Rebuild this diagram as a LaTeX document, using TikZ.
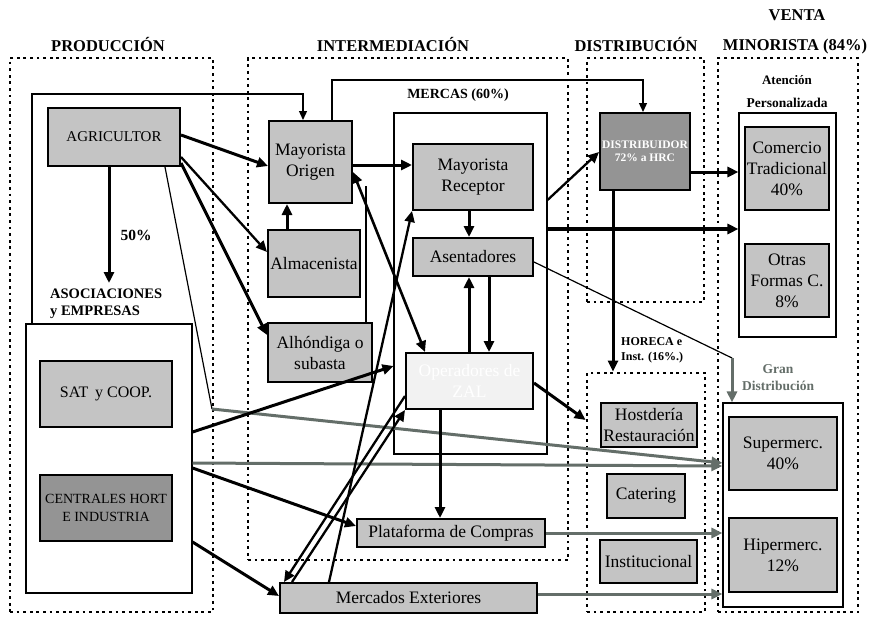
\documentclass[tikz,border=0pt]{standalone}
\usepackage{fontspec}
\setmainfont{Liberation Serif}
\usetikzlibrary{arrows.meta}
\definecolor{boxfill}{RGB}{196,196,196}
\definecolor{darkfill}{RGB}{148,148,148}
\definecolor{lightfill}{RGB}{242,242,242}
\definecolor{gline}{RGB}{100,110,105}
\tikzset{
  wh/.style 2 args={minimum width=#1pt, minimum height=#2pt},
  bx/.style={draw=black, line width=2pt, fill=boxfill, align=center, inner sep=1pt, font=\fontsize{17.5}{21}\selectfont},
  frame/.style={draw=black, line width=1.1pt},
  sect/.style={draw=black, line width=2.8pt, dash pattern=on 2.8pt off 3.8pt},
  hdr/.style={font=\bfseries\fontsize{16.5}{19}\selectfont},
  bigtip/.style={-{Triangle[length=11pt,width=10pt]}},
  smalltip/.style={-{Triangle[length=9pt,width=8pt]}},
  thk/.style={line width=3pt, bigtip},
  med/.style={line width=2.3pt, bigtip},
  thn/.style={line width=1.3pt, smalltip},
  thnline/.style={line width=1.2pt},
  gry/.style={draw=gline, line width=3pt, -{Triangle[length=11pt,width=10pt]}, fill=none},
}
\begin{document}
\begin{tikzpicture}[x=1pt,y=-1pt]
\useasboundingbox (0,0) rectangle (872,618);

% section frames
\node[sect, wh={203}{554}] (prod) at (111.5,335) {};
\node[sect, wh={320}{502}] (inter) at (408,309) {};
\node[sect, wh={117}{244}] (distr) at (645.5,180) {};
\node[sect, wh={118}{239}] (horeca) at (646,492.5) {};
\node[sect, wh={140}{554}] (venta) at (788,335) {};

% titles
\node[hdr] (tprod) at (108,45) {PRODUCCIÓN};
\node[hdr] (tinter) at (393,45) {INTERMEDIACIÓN};
\node[hdr] (tdist) at (636,45) {DISTRIBUCIÓN};
\node[hdr] (tventa) at (797,15) {VENTA};
\node[hdr] (tmin) at (795,47) {MINORISTA (84\%)};
\node[font=\bfseries\fontsize{14}{16}\selectfont] (tmercas) at (458,95) {MERCAS (60\%)};
\node[font=\bfseries\fontsize{13}{14}\selectfont] (tat1) at (787,80) {Atención};
\node[font=\bfseries\fontsize{13.5}{14}\selectfont] (tat2) at (787,103) {Personalizada};
\node[font=\bfseries\fontsize{12}{15}\selectfont, align=left, anchor=north west, inner sep=0pt] (thor) at (621,337) {HORECA e\\Inst. (16\%.)};
\node[font=\bfseries\fontsize{13.5}{17}\selectfont, text=gline, align=center] (tgran) at (778,378) {Gran\\Distribución};
\node[font=\bfseries\fontsize{14.5}{16.5}\selectfont, align=left, anchor=north west, inner sep=0pt] (tasoc) at (50,289) {ASOCIACIONES\\y EMPRESAS};
\node[font=\bfseries\fontsize{15.5}{17}\selectfont] (t50) at (136,235) {50\%};

% thin containers
\node[frame, wh={166}{269}] (asoc) at (109,458.5) {};
\node[frame, wh={153}{341}] (mercas) at (470.5,283.5) {};
\node[frame, wh={97}{224}] (aten) at (787.5,225) {};
\node[frame, wh={120}{204}] (gran) at (783,505) {};

% boxes
\node[bx, wh={132}{58}, font=\fontsize{15}{17}\selectfont] (agri) at (114,137) {AGRICULTOR};
\node[bx, wh={132}{66}, font=\fontsize{16}{18}\selectfont] (sat) at (106,394) {SAT\, y COOP.};
\node[bx, wh={132}{66}, fill=darkfill, font=\fontsize{14}{17.5}\selectfont] (cent) at (106,508) {CENTRALES HORT\\E INDUSTRIA};
\node[bx, wh={83}{82}] (mayo) at (310.5,162) {Mayorista\\Origen};
\node[bx, wh={92}{67}] (alma) at (314,263.5) {Almacenista};
\node[bx, wh={104}{59}] (alho) at (320,352.5) {Alhóndiga o\\subasta};
\node[bx, wh={120}{66}] (mrec) at (473,177) {Mayorista\\Receptor};
\node[bx, wh={120}{38}] (asen) at (473,257) {Asentadores};
\node[bx, wh={127}{56}, fill=lightfill, text=white] (oper) at (469.5,381) {Operadores de\\ZAL};
\node[bx, wh={188}{28}] (plat) at (451,533) {Plataforma de Compras};
\node[bx, wh={257}{30}] (mext) at (408.5,598) {Mercados Exteriores};
\node[bx, wh={90}{77}, fill=darkfill, text=white, font=\bfseries\fontsize{11.5}{13}\selectfont] (dist) at (645,151.5) {DISTRIBUIDOR\\72\% a HRC};
\node[bx, wh={84}{83}] (comt) at (787,168.5) {Comercio\\Tradicional\\40\%};
\node[bx, wh={84}{73}] (otras) at (787,280.5) {Otras\\Formas C.\\8\%};
\node[bx, wh={108}{73}] (super) at (783,453.5) {Supermerc.\\40\%};
\node[bx, wh={108}{74}] (hiper) at (783,555) {Hipermerc.\\12\%};
\node[bx, wh={96}{44}] (host) at (649,425) {Hostdería\\Restauración};
\node[bx, wh={78}{44}] (cater) at (646,496) {Catering};
\node[bx, wh={97}{43}] (inst) at (648.5,561.5) {Institucional};

% free points
\coordinate (k1) at (212,409);
\coordinate (k2) at (366,186);
\coordinate (k3) at (32,94);
\coordinate (k4) at (303,94);
\coordinate (k5) at (332,80);
\coordinate (k6) at (643,80);
\coordinate (k7) at (732,358);

% connectors
\draw[thk] (agri.east |- 0,135) -- (mayo.west |- 0,166);
\draw[med] (agri.east |- 0,157) -- (alma.west |- 0,252);
\draw[thk] (agri.east |- 0,163) -- (alho.west |- 0,335);
\draw[thnline] (agri.south -| 165,0) -- (k1);
\draw[gry] (k1) -- (gran.west |- 0,463);
\draw[thk, shorten >=6pt] (agri.south -| 109,0) -- (tasoc.north -| 109,0);
\draw[thk] (alma.north -| 287,0) -- (mayo.south -| 287,0);
\draw[thk] (mayo.east |- 0,165) -- (mrec.west |- 0,165);
\draw[line width=2.6pt, {Triangle[length=11pt,width=10pt]}-{Triangle[length=11pt,width=10pt]}] (mayo.east |- 0,172) -- (oper.north -| 425,0);
\draw[thnline] (alho.north -| 366,0) -- (k2);
\draw[thk] (mrec.south -| 469,0) -- (asen.north -| 469,0);
\draw[thk] (oper.north -| 469,0) -- (asen.south -| 469,0);
\draw[thk] (asen.south -| 489,0) -- (oper.north -| 489,0);
\draw[thnline] (asen.east |- 0,262) -- (k7);
\draw[gry] (k7) -- (gran.north -| 732,0);
\draw[thk] (asoc.east |- 0,432) -- (mercas.west |- 0,366);
\draw[gry] (asoc.east |- 0,463) -- (gran.west |- 0,466);
\draw[thk] (asoc.east |- 0,468) -- (plat.west |- 0,526);
\draw[thk] (asoc.east |- 0,542) -- (mext.west |- 0,596);
\draw[med] (oper.west |- 0,396) -- (mext.north -| 284,0);
\draw[med] (mext.north -| 292,0) -- (oper.south west);
\draw[med] (mext.north -| 329,0) -- (mrec.south west);
\draw[thk] (oper.east |- 0,383) -- (horeca.west |- 0,420);
\draw[thk] (oper.south -| 440,0) -- (plat.north -| 440,0);
\draw[gry] (plat.east |- 0,533) -- (gran.west |- 0,533);
\draw[gry] (mext.east |- 0,594) -- (gran.west |- 0,594);
\draw[thk] (dist.east |- 0,172) -- (aten.west |- 0,172);
\draw[line width=3.4pt, bigtip] (mercas.east |- 0,229) -- (aten.west |- 0,229);
\draw[med] (mercas.east |- 0,200) -- (dist.west |- 0,152);
\draw[thk] (dist.south -| 613,0) -- (horeca.north -| 613,0);
\draw[thn] (asoc.north -| 32,0) -- (k3) -- (k4) -- (mayo.north -| 303,0);
\draw[thn] (mayo.north -| 332,0) -- (k5) -- (k6) -- (dist.north -| 643,0);
\end{tikzpicture}
\end{document}
